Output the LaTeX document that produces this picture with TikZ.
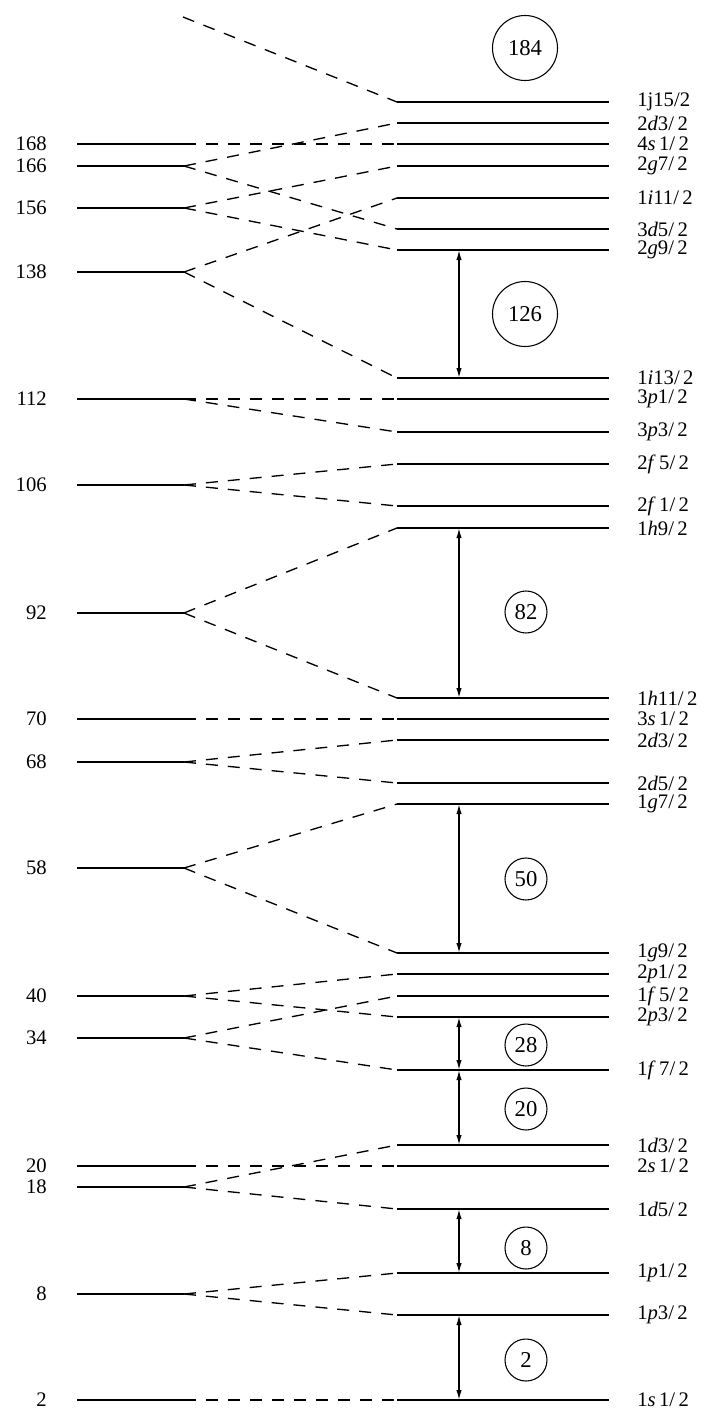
\documentclass[tikz,border=0pt]{standalone}
\usepackage{fontspec}
\setmainfont{Liberation Serif}
\usetikzlibrary{arrows.meta}
\newcommand{\rlev}[3]{%
  \coordinate (#1-a) at (397,#2);
  \coordinate (#1-b) at (609,#2);
  \coordinate (#1-m) at (459,#2);
  \draw[lvl] (#1-a) -- (#1-b);
  \node[lab,anchor=west] (#1-l) at (637,#2) {#3};}
\newcommand{\llev}[2]{%
  \coordinate (l#1-a) at (77,#2);
  \coordinate (l#1-b) at (184,#2);
  \draw[lvl] (l#1-a) -- (l#1-b);
  \node[lab,anchor=east] (l#1-l) at (47,#2) {#1};}
\begin{document}
\begin{tikzpicture}[x=0.75pt,y=-0.75pt,
  lvl/.style={line width=1pt},
  split/.style={line width=1pt,dash pattern=on 9pt off 7.5pt},
  dbl/.style={line width=1pt,{Latex[length=7.5pt,width=4pt]}-{Latex[length=7.5pt,width=4pt]}},
  lab/.style={inner sep=0pt,font=\fontsize{15.5}{17}\selectfont},
  bigc/.style={draw,circle,line width=0.8pt,minimum size=48.75pt,inner sep=0pt,font=\fontsize{17}{18}\selectfont},
  smc/.style={draw,circle,line width=0.8pt,minimum size=31.5pt,inner sep=0pt,font=\fontsize{17}{18}\selectfont}]
\useasboundingbox (0,0) rectangle (710,1409);
% right levels
\rlev{j15}{102}{1j15/2}
\rlev{d3b}{123}{2\textit{d}3/\,2}
\rlev{s4}{144}{4\textit{s}\,1/\,2}
\rlev{g7b}{166}{2\textit{g}7/\,2}
\rlev{i11}{198}{1\textit{i}11/\,2}
\rlev{d5c}{229}{3\textit{d}5/\,2}
\rlev{g9b}{250}{2\textit{g}9/\,2}
\rlev{i13}{378}{1\textit{i}13/\,2}
\rlev{p1c}{399}{3\textit{p}1/\,2}
\rlev{p3c}{432}{3\textit{p}3/\,2}
\rlev{f5b}{464}{2\textit{f}\,5/\,2}
\rlev{f1b}{506}{2\textit{f}\,1/\,2}
\rlev{h9}{528}{1\textit{h}9/\,2}
\rlev{h11}{698}{1\textit{h}11/\,2}
\rlev{s3}{719}{3\textit{s}\,1/\,2}
\rlev{d3a}{740}{2\textit{d}3/\,2}
\rlev{d5a}{783}{2\textit{d}5/\,2}
\rlev{g7a}{804}{1\textit{g}7/\,2}
\rlev{g9a}{953}{1\textit{g}9/\,2}
\rlev{p1b}{974}{2\textit{p}1/\,2}
\rlev{f5a}{996}{1\textit{f}\,5/\,2}
\rlev{p3b}{1017}{2\textit{p}3/\,2}
\rlev{f7}{1070}{1\textit{f}\,7/\,2}
\rlev{d3}{1145}{1\textit{d}3/\,2}
\rlev{s2}{1166}{2\textit{s}\,1/\,2}
\rlev{d5}{1209}{1\textit{d}5/\,2}
\rlev{p1}{1273}{1\textit{p}1/\,2}
\rlev{p3}{1315}{1\textit{p}3/\,2}
\rlev{s1}{1400}{1\textit{s}\,1/\,2}
% left levels
\llev{168}{144}
\llev{166}{166}
\llev{156}{208}
\llev{138}{272}
\llev{112}{399}
\llev{106}{485}
\llev{92}{613}
\llev{70}{719}
\llev{68}{762}
\llev{58}{868}
\llev{40}{996}
\llev{34}{1038}
\llev{20}{1166}
\llev{18}{1187}
\llev{8}{1294}
\llev{2}{1400}
% splitting connectors
\coordinate (top) at (183,17);
\draw[split] (top) -- (j15-a);
\draw[split] (l168-b) -- (s4-a);
\draw[split] (l166-b) -- (d3b-a);
\draw[split] (l166-b) -- (d5c-a);
\draw[split] (l156-b) -- (g7b-a);
\draw[split] (l156-b) -- (g9b-a);
\draw[split] (l138-b) -- (i11-a);
\draw[split] (l138-b) -- (i13-a);
\draw[split] (l112-b) -- (p1c-a);
\draw[split] (l112-b) -- (p3c-a);
\draw[split] (l106-b) -- (f5b-a);
\draw[split] (l106-b) -- (f1b-a);
\draw[split] (l92-b) -- (h9-a);
\draw[split] (l92-b) -- (h11-a);
\draw[split] (l70-b) -- (s3-a);
\draw[split] (l68-b) -- (d3a-a);
\draw[split] (l68-b) -- (d5a-a);
\draw[split] (l58-b) -- (g7a-a);
\draw[split] (l58-b) -- (g9a-a);
\draw[split] (l40-b) -- (p1b-a);
\draw[split] (l40-b) -- (p3b-a);
\draw[split] (l34-b) -- (f5a-a);
\draw[split] (l34-b) -- (f7-a);
\draw[split] (l20-b) -- (s2-a);
\draw[split] (l18-b) -- (d3-a);
\draw[split] (l18-b) -- (d5-a);
\draw[split] (l8-b) -- (p1-a);
\draw[split] (l8-b) -- (p3-a);
\draw[split] (l2-b) -- (s1-a);
% gaps
\draw[dbl] (g9b-m) -- (i13-m);
\draw[dbl] (h9-m) -- (h11-m);
\draw[dbl] (g7a-m) -- (g9a-m);
\draw[dbl] (p3b-m) -- (f7-m);
\draw[dbl] (f7-m) -- (d3-m);
\draw[dbl] (d5-m) -- (p1-m);
\draw[dbl] (p3-m) -- (s1-m);
% magic numbers
\node[bigc] (c184) at (525,48) {184};
\node[bigc] (c126) at (525,314) {126};
\node[smc] (c82) at (526,612) {82};
\node[smc] (c50) at (526,879) {50};
\node[smc] (c28) at (526,1045) {28};
\node[smc] (c20) at (526,1109) {20};
\node[smc] (c8) at (526,1248) {8};
\node[smc] (c2) at (526,1360) {2};
\end{tikzpicture}
\end{document}
